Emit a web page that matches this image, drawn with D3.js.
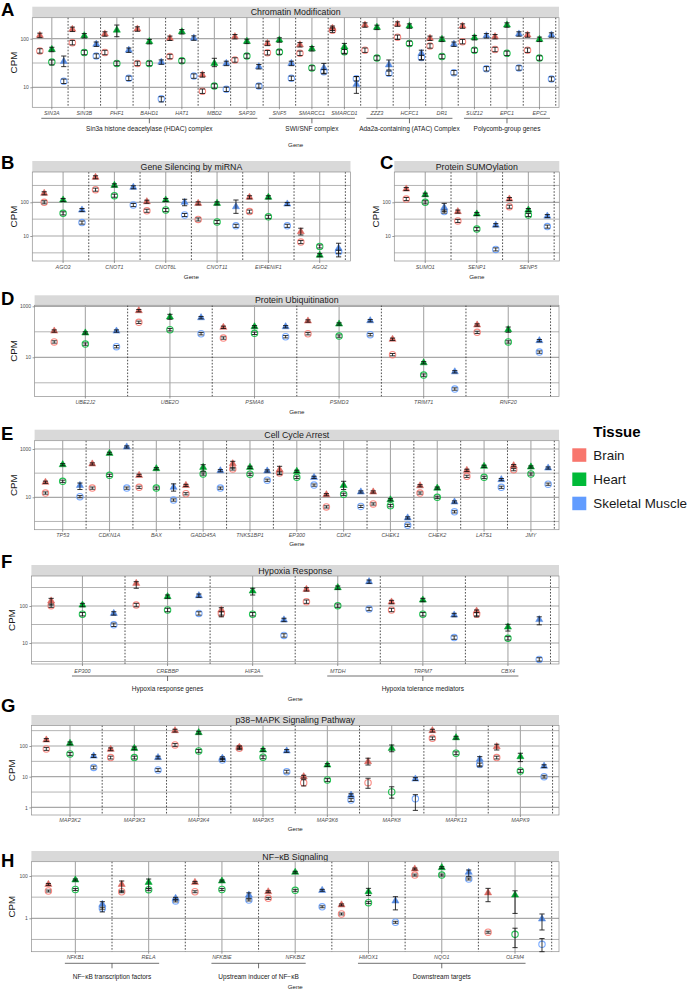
<!DOCTYPE html>
<html><head><meta charset="utf-8">
<script src="https://cdn.jsdelivr.net/npm/d3@7"></script>
<style>
body{margin:0;background:#fff}
svg{display:block;font-family:"Liberation Sans",Arial,Helvetica,sans-serif}
</style>
</head><body>
<svg id="chart" width="688" height="989"></svg>
<script>
// ---------------- DATA ----------------
const tissues = ["Brain", "Heart", "Skeletal Muscle"];
const tissueColors = ["#F8766D", "#00BA38", "#619CFF"];

// A: Chromatin Modification
const genesA = ["SIN3A","SIN3B","PHF1","BAHD1","HAT1","MBD2","SAP30","SNF5","SMARCC1","SMARCD1","ZZZ3","HCFC1","DR1","SUZ12","EPC1","EPC2"];
const triA = [
  [117,156,125,158,102,18,110,80,75,164,191,200,102,182,110,119],
  [60,115,150,87,139,31,88,94,62,68,171,182,97,105,191,97],
  [34,77,58,33,103,31,26.5,31,25,11.5,29,50,77,115,125,119]];
const circA = [
  [56,83,52,31,43,8.3,36.5,51.5,50,150,58,107,71,87,60,58],
  [33,52,31,31,35,10.6,44,53,25,54,40,80,43,58,50,40],
  [13.3,44,15.3,5.8,17,9.1,10.6,15.3,21,15,19.4,41,20,24,25,14.8]];
const errA = [["SIN3A",2,"t",26.6,44],["SIN3A",1,"c",28.8,36.5],["PHF1",1,"t",110,191],["MBD2",1,"t",26.6,39.5],
  ["HCFC1",2,"t",36.5,58],["SMARCC1",2,"t",19.4,31],["SMARCD1",2,"t",7.5,16.6],["SMARCD1",1,"t",50,80],
  ["ZZZ3",2,"t",22.7,36.5],["BAHD1",2,"c",5.0,6.4]];
const groupsA = [["Sin3a histone deacetylase (HDAC) complex","SIN3A","SAP30"],["SWI/SNF complex","SNF5","SMARCD1"],
  ["Ada2a-containing (ATAC) Complex","ZZZ3","DR1"],["Polycomb-group genes","SUZ12","EPC2"]];
const ticksA = [10, 100];

// B: Gene Silencing by miRNA
const genesB = ["AGO3","CNOT1","CNOT6L","CNOT11","EIF4ENIF1","AGO2"];
const triB = [[185,552,104,93,141,13.4],[117,319,117,93,141,2.7],[59,279,100,74,89,4.3]];
const circB = [[100,237,56,31,53,6.6],[47,157,59,26,37,4.9],[25,83,42,20,20,3.4]];
const errB = [["CNOT6L",2,"t",79,123],["CNOT11",2,"t",47,117],["AGO2",2,"t",2.4,6.1],["AGO2",0,"t",10.7,17]];
const ticksB = [10, 100];

// C: Protein SUMOylation
const genesC = ["SUMO1","SENP1","SENP5"];
const triC = [[248,53,125],[168,45,59],[70,21,39]];
const circC = [[125,28,74],[100,16,42],[53,4.0,19]];
const errC = [["SUMO1",2,"t",53,93]];
const ticksC = [10, 100];

// D: Protein Ubiquitination
const genesD = ["UBE2J2","UBE2O","PSMA6","PSMD3","TRIM71","RNF20"];
const triD = [[107,673,150,265,51,185],[90,380,158,202,6.1,121],[107,357,158,272,2.7,45]];
const circD = [[40,236,57,84,12.7,95],[33,121,87,68,2.0,40],[26,84,64,77,0.57,16]];
const errD = [["RNF20",1,"t",96,154],["UBE2O",1,"t",309,485]];
const ticksD = [10, 1000];

// E: Cell Cycle Arrest
const genesE = ["TP53","CDKN1A","BAX","GADD45A","TNKS1BP1","EP300","CDK2","CHEK1","CHEK2","LATS1","JMY"];
const triE = [[42,240,81,31,246,139,12.8,16.6,30,131,204],[224,662,153,174,174,119,31,7.9,24,192,180],[31,1210,26,126,123,67,16.6,1.4,6.4,54,163]];
const circE = [[15,24,26,14,149,101,4.0,5.3,15,74,139],[46,81,24,92,90,67,13.3,4.5,10,67,92],[10.6,24,7.7,24,51,32,4.2,0.69,2.5,26,35]];
const errE = [["TP53",2,"t",21,39],["BAX",2,"t",18,36],["GADD45A",1,"t",119,224],["EP300",0,"t",86,192],["CDK2",1,"t",21,46],["TNKS1BP1",0,"t",163,309]];
const ticksE = [10, 1000];

// F: Hypoxia Response
const genesF = ["EP300","CREBBP","HIF3A","MTDH","TRPM7","CBX4"];
const triF = [[137,410,78,282,128,73],[106,179,254,313,145,27],[63,190,42,454,57,43]];
const circF = [[102,106,63,131,78,60],[60,78,60,102,60,13.4],[31,63,16,83,14,3.6]];
const errF = [["EP300",0,"t",106,161],["CREBBP",0,"t",301,454],["HIF3A",0,"t",51,90],["HIF3A",1,"t",198,301],
  ["CBX4",0,"t",51,78],["CBX4",1,"t",21,32],["CBX4",2,"t",31,51]];
const groupsF = [["Hypoxia response genes","EP300","HIF3A"],["Hypoxia tolerance mediators","MTDH","CBX4"]];
const ticksF = [10, 100];

// G: p38-MAPK Signaling Pathway
const genesG = ["MAP3K2","MAP3K3","MAP3K4","MAP3K5","MAP3K6","MAPK8","MAPK13","MAPK9"];
const triG = [[157,78,316,91,10,31,316,95],[122,84,272,74,24,84,186,45],[47,42,40,69,2.5,8.4,37,22]];
const circG = [[80,42,108,84,6.4,6.4,178,42],[55,42,69,43,7.8,3.2,58,15.4],[20,16.5,35,14.6,1.74,1.9,25,10]];
const errG = [["MAP3K6",0,"c",5.0,8],["MAPK8",0,"t",24,40],["MAPK8",0,"c",4.2,8.9],["MAPK8",1,"t",65,108],
  ["MAPK8",1,"c",2.0,4.7],["MAPK8",2,"c",0.8,2.6],["MAPK13",2,"t",21,45],["MAPK9",1,"t",31,58],["MAPK9",0,"t",74,114]];
const ticksG = [1, 10, 100];

// H: NF-kB Signaling
const genesH = ["NFKB1","RELA","NFKBIE","NFKBIZ","HMOX1","NQO1","OLFM4"];
const triH = [[40,40,50,18,4.3,214,16],[65,50,58,150,18,248,12.6],[4.6,8.8,12.6,21,6.6,150,0.93]];
const circH = [[19.5,18,18,8.8,1.6,111,0.22],[23,22.5,23,21,5.5,111,0.175],[3.0,6.6,7.3,3.5,0.65,72,0.059]];
const errH = [["NFKB1",2,"t",2.0,6.1],["RELA",0,"t",18,58],["RELA",1,"t",26,72],["NFKBIE",2,"t",8.8,16],
  ["HMOX1",1,"t",12,26],["HMOX1",2,"t",2.5,10.5],["NQO1",2,"t",93,192],["OLFM4",0,"t",6.1,26],["OLFM4",1,"t",1.7,20],
  ["OLFM4",1,"c",0.041,0.34],["OLFM4",2,"t",0.28,1.6],["OLFM4",2,"c",0.026,0.11]];
const groupsH = [["NF\u2212\u03baB transcription factors","NFKB1","RELA"],["Upstream inducer of NF\u2212\u03baB","NFKBIE","NFKBIZ"],
  ["Downstream targets","HMOX1","OLFM4"]];
const ticksH = [1, 100];

const defaultErr = [0.9, 1.11]; // default multiplicative error range

// ---------------- LAYOUT ----------------
const panels = [
 {id:"A",title:"Chromatin Modification",genes:genesA,tri:triA,circ:circA,err:errA,ticks:ticksA,groups:groupsA,
  x0:32.3,x1:559,stripTop:6.7,top:17.7,bottom:107.3,ref:[[100,38.7],[10,87.3]],letter:[1,15.5],cpmX:13.3,
  labelY:113,bracketY:118.3,groupY:129,geneY:145},
 {id:"B",title:"Gene Silencing by miRNA",genes:genesB,tri:triB,circ:circB,err:errB,ticks:ticksB,
  x0:32.3,x1:350.5,stripTop:161,top:172,bottom:261,ref:[[100,202.3],[10,236]],letter:[1,169],cpmX:13.3,
  labelY:267.3,geneY:276.3},
 {id:"C",title:"Protein SUMOylation",genes:genesC,tri:triC,circ:circC,err:errC,ticks:ticksC,
  x0:394.3,x1:559.3,stripTop:161,top:172,bottom:261,ref:[[100,202.3],[10,236]],letter:[380,169],cpmX:375,
  labelY:267.3,geneY:276.3},
 {id:"D",title:"Protein Ubiquitination",genes:genesD,tri:triD,circ:circD,err:errD,ticks:ticksD,
  x0:34.6,x1:559,stripTop:295.3,top:305.3,bottom:396.5,ref:[[1000,306.3],[10,357.3]],letter:[1,305],cpmX:13.3,
  labelY:402,geneY:411.3},
 {id:"E",title:"Cell Cycle Arrest",genes:genesE,tri:triE,circ:circE,err:errE,ticks:ticksE,
  x0:34.6,x1:559,stripTop:429.7,top:440.7,bottom:529.7,ref:[[1000,449],[10,497.3]],letter:[1,440],cpmX:13.3,
  labelY:535,geneY:543.3},
 {id:"F",title:"Hypoxia Response",genes:genesF,tri:triF,circ:circF,err:errF,ticks:ticksF,groups:groupsF,
  x0:31.4,x1:559,stripTop:565,top:576,bottom:664,ref:[[100,606],[10,643]],letter:[1,568],cpmX:11.7,
  labelY:670.7,bracketY:676,groupY:688.3,geneY:699},
 {id:"G",title:"p38\u2212MAPK Signaling Pathway",genes:genesG,tri:triG,circ:circG,err:errG,ticks:ticksG,
  x0:31.4,x1:559,stripTop:715,top:725.5,bottom:815,ref:[[100,746],[10,776.7]],letter:[1,712],cpmX:11.7,
  labelY:820,geneY:828.3},
 {id:"H",title:"NF\u2212\u03baB Signaling",genes:genesH,tri:triH,circ:circH,err:errH,ticks:ticksH,groups:groupsH,
  x0:31.4,x1:559,stripTop:851,top:861.7,bottom:951.7,ref:[[100,876],[1,918.3]],letter:[1,867],cpmX:11.7,
  labelY:957.3,bracketY:963.3,groupY:977,geneY:986.3}
];

const svg = d3.select("#chart");
const dodge = 0.368;

function drawPanel(p) {
  const g = svg.append("g");
  const [va, ya] = p.ref[0], [vb, yb] = p.ref[1];
  const dec = (yb - ya) / (Math.log10(va) - Math.log10(vb));
  const hi = Math.pow(10, Math.log10(va) + (ya - p.top) / dec);
  const lo = Math.pow(10, Math.log10(va) - (p.bottom - ya) / dec);
  const y = d3.scaleLog().domain([lo, hi]).range([p.bottom, p.top]);
  const x = d3.scaleBand().domain(p.genes).range([p.x0, p.x1]).paddingInner(0).paddingOuter(0.1);
  const step = x.step();
  const cx = gname => x(gname) + step / 2;

  // strip
  g.append("rect").attr("x", p.x0).attr("y", p.stripTop).attr("width", p.x1 - p.x0)
    .attr("height", p.top - p.stripTop).attr("fill", "#d9d9d9");
  g.append("text").attr("x", (p.x0 + p.x1) / 2).attr("y", (p.stripTop + p.top) / 2)
    .attr("dy", "0.36em").attr("text-anchor", "middle").attr("font-size", 8.8).attr("fill", "#1a1a1a").text(p.title);

  g.append("rect").attr("x", p.x0).attr("y", p.top).attr("width", p.x1 - p.x0)
    .attr("height", p.bottom - p.top).attr("fill", "#fff");

  // gridlines
  const r = p.ticks.length > 1 ? p.ticks[1] / p.ticks[0] : 10;
  const minors = p.ticks.map(t => t * Math.sqrt(r)).concat([p.ticks[0] / Math.sqrt(r)])
    .filter(v => v > lo && v < hi);
  g.selectAll(".minor").data(minors).enter().append("line")
    .attr("x1", p.x0).attr("x2", p.x1).attr("y1", d => y(d)).attr("y2", d => y(d))
    .attr("stroke", "#b4b4b4").attr("stroke-width", 1);
  g.selectAll(".major").data(p.ticks.filter(v => v > lo && v < hi)).enter().append("line")
    .attr("x1", p.x0).attr("x2", p.x1).attr("y1", d => y(d)).attr("y2", d => y(d))
    .attr("stroke", "#a8a8a8").attr("stroke-width", 1.2);
  g.selectAll(".vgrid").data(p.genes).enter().append("line")
    .attr("x1", d => cx(d)).attr("x2", d => cx(d)).attr("y1", p.top).attr("y2", p.bottom)
    .attr("stroke", "#a8a8a8").attr("stroke-width", 1.1);

  // dashed separators
  g.selectAll(".sep").data(p.genes).enter().append("line")
    .attr("x1", d => x(d) + step).attr("x2", d => x(d) + step).attr("y1", p.top).attr("y2", p.bottom)
    .attr("stroke", "#222").attr("stroke-width", 0.8).attr("stroke-dasharray", "1.6,1.6");

  g.append("rect").attr("x", p.x0).attr("y", p.top).attr("width", p.x1 - p.x0)
    .attr("height", p.bottom - p.top).attr("fill", "none").attr("stroke", "#8f8f8f").attr("stroke-width", 0.7);

  // points
  const pts = [];
  p.genes.forEach((gn, gi) => {
    tissues.forEach((t, ti) => {
      const px = cx(gn) + (ti - 1) * dodge * step;
      [["t", p.tri[ti][gi]], ["c", p.circ[ti][gi]]].forEach(([m, v]) => {
        const e = p.err.find(e => e[0] === gn && e[1] === ti && e[2] === m);
        const elo = e ? e[3] : v * defaultErr[0];
        const ehi = e ? e[4] : v * defaultErr[1];
        pts.push({x: px, v, m, ti, lo: Math.max(elo, lo), hi: Math.min(ehi, hi)});
      });
    });
  });
  const inRange = d => d.v >= lo && d.v <= hi;
  g.selectAll(".circ").data(pts.filter(d => d.m === "c" && inRange(d))).enter().append("circle")
    .attr("cx", d => d.x).attr("cy", d => y(d.v)).attr("r", 3.2)
    .attr("fill", "none").attr("stroke", d => tissueColors[d.ti]).attr("stroke-width", 1.1).attr("opacity", 0.85);
  const tri = d3.symbol().type(d3.symbolTriangle).size(22);
  g.selectAll(".tri").data(pts.filter(d => d.m === "t" && inRange(d))).enter().append("path")
    .attr("d", tri).attr("transform", d => `translate(${d.x},${y(d.v)})`)
    .attr("fill", d => d3.color(tissueColors[d.ti]).darker(0.35))
    .attr("stroke", d => d3.color(tissueColors[d.ti]).darker(0.35)).attr("stroke-width", 0.5);
  const eb = g.selectAll(".eb").data(pts).enter().append("g").attr("stroke", "#111").attr("stroke-width", 0.85);
  eb.append("line").attr("x1", d => d.x).attr("x2", d => d.x).attr("y1", d => y(d.lo)).attr("y2", d => y(d.hi));
  eb.append("line").attr("x1", d => d.x - 2.6).attr("x2", d => d.x + 2.6).attr("y1", d => y(d.lo)).attr("y2", d => y(d.lo));
  eb.append("line").attr("x1", d => d.x - 2.6).attr("x2", d => d.x + 2.6).attr("y1", d => y(d.hi)).attr("y2", d => y(d.hi));

  // y axis
  const ya2 = g.append("g").attr("transform", `translate(${p.x0},0)`)
    .call(d3.axisLeft(y).tickValues(p.ticks).tickFormat(d3.format("d")).tickSize(2).tickPadding(1.5));
  ya2.select(".domain").remove();
  ya2.selectAll("line").attr("stroke", "#555").attr("stroke-width", 0.6);
  ya2.selectAll("text").attr("font-size", 5).attr("fill", "#4d4d4d").attr("font-family", "Liberation Sans, Arial, sans-serif");

  // x axis
  const xa = g.append("g").attr("transform", `translate(0,${p.bottom})`)
    .call(d3.axisBottom(x).tickSize(2).tickPadding(2));
  xa.select(".domain").remove();
  xa.selectAll("line").attr("stroke", "#555").attr("stroke-width", 0.6);
  xa.selectAll("text").attr("y", p.labelY - p.bottom).attr("dy", "0.36em")
    .attr("font-size", 5.4).attr("font-style", "italic").attr("fill", "#4d4d4d")
    .attr("font-family", "Liberation Sans, Arial, sans-serif");

  if (p.groups) {
    p.groups.forEach(([label, g0, g1]) => {
      const xa0 = cx(g0) - 10.5, xa1 = cx(g1) + 10.5, xm = (cx(g0) + cx(g1)) / 2;
      g.append("line").attr("x1", xa0).attr("x2", xa1).attr("y1", p.bracketY).attr("y2", p.bracketY)
        .attr("stroke", "#333").attr("stroke-width", 0.7);
      g.append("line").attr("x1", xm).attr("x2", xm).attr("y1", p.bracketY).attr("y2", p.bracketY + 5)
        .attr("stroke", "#333").attr("stroke-width", 0.7);
      g.append("text").attr("x", xm).attr("y", p.groupY).attr("dy", "0.36em").attr("text-anchor", "middle")
        .attr("font-size", 6.5).attr("fill", "#1a1a1a").text(label);
    });
  }

  g.append("text").attr("x", (p.x0 + p.x1) / 2).attr("y", p.geneY).attr("dy", "0.36em")
    .attr("text-anchor", "middle").attr("font-size", 6.2).attr("fill", "#1a1a1a").text("Gene");
  g.append("text").attr("transform", `translate(${p.cpmX},${(p.top + p.bottom) / 2}) rotate(-90)`)
    .attr("dy", "0.36em").attr("text-anchor", "middle").attr("font-size", 9.8).attr("fill", "#1a1a1a").text("CPM");

  g.append("text").attr("x", p.letter[0]).attr("y", p.letter[1]).attr("font-size", 18.5)
    .attr("font-weight", "bold").attr("fill", "#000").text(p.id);
}

panels.forEach(drawPanel);

// legend
const lg = svg.append("g");
lg.append("text").attr("x", 593.3).attr("y", 437).attr("font-size", 15).attr("font-weight", "bold").text("Tissue");
tissues.forEach((t, i) => {
  lg.append("rect").attr("x", 572.3).attr("y", 448.3 + i * 24.2).attr("width", 14).attr("height", 13.5)
    .attr("fill", tissueColors[i]);
  lg.append("text").attr("x", 593.3).attr("y", 448.3 + i * 24.2 + 6.75).attr("dy", "0.36em")
    .attr("font-size", 13.4).attr("fill", "#1a1a1a").text(t);
});
</script>
</body></html>
